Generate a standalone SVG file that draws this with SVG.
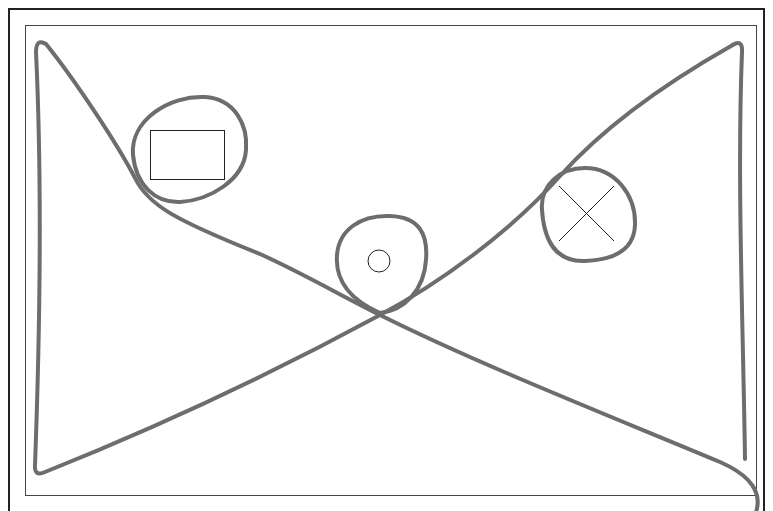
<svg xmlns="http://www.w3.org/2000/svg" width="773" height="511" viewBox="0 0 773 511">
<style>
.frame{fill:none;stroke:#222;stroke-width:2}
.inner{fill:none;stroke:#444;stroke-width:1}
.curve{fill:none;stroke:#6d6d70;stroke-width:4;stroke-linecap:round;stroke-linejoin:round}
.thin{fill:none;stroke:#222;stroke-width:1}
</style>
<rect width="773" height="511" fill="#fff"/>
<rect class="frame" x="9" y="9" width="755" height="515"/>
<rect class="inner" x="25.5" y="25.5" width="731" height="470"/>
<path class="curve" d="M 745 459 C 743 320, 737 180, 742 52 Q 743 38 731 46 C 680 75, 610 120, 560 176 C 510 232, 440 283, 380 315 C 260 380, 150 430, 45 472 Q 34 477 35 465 C 40 330, 42 180, 36 52 Q 36 38 46 44 C 75 80, 118 145, 135 178 C 148 205, 175 220, 260 254 C 300 272, 340 295, 380 315 C 480 365, 620 420, 720 462 C 745 473, 765 490, 755 515"/>
<g id="rect-loop">
<path class="curve" d="M 133 155 C 130 120, 170 95, 205 97 C 235 99, 248 125, 246 150 C 244 180, 210 200, 180 202 C 155 203, 136 185, 133 155 Z"/>
<rect class="thin" x="150.5" y="130.5" width="74" height="49"/>
</g>
<g id="circle-loop">
<path class="curve" d="M 380 313 C 350 300, 335 280, 337 255 C 339 230, 360 215, 390 216 C 420 217, 428 235, 426 260 C 424 290, 405 310, 380 313 Z"/>
<circle class="thin" cx="379" cy="261" r="11"/>
</g>
<g id="x-loop">
<path class="curve" d="M 542 210 C 540 185, 560 168, 585 168 C 615 168, 636 195, 635 225 C 634 252, 610 260, 585 261 C 555 262, 544 240, 542 210 Z"/>
<path class="thin" d="M 559 186 L 614 241 M 614 186 L 559 241"/>
</g>
</svg>
